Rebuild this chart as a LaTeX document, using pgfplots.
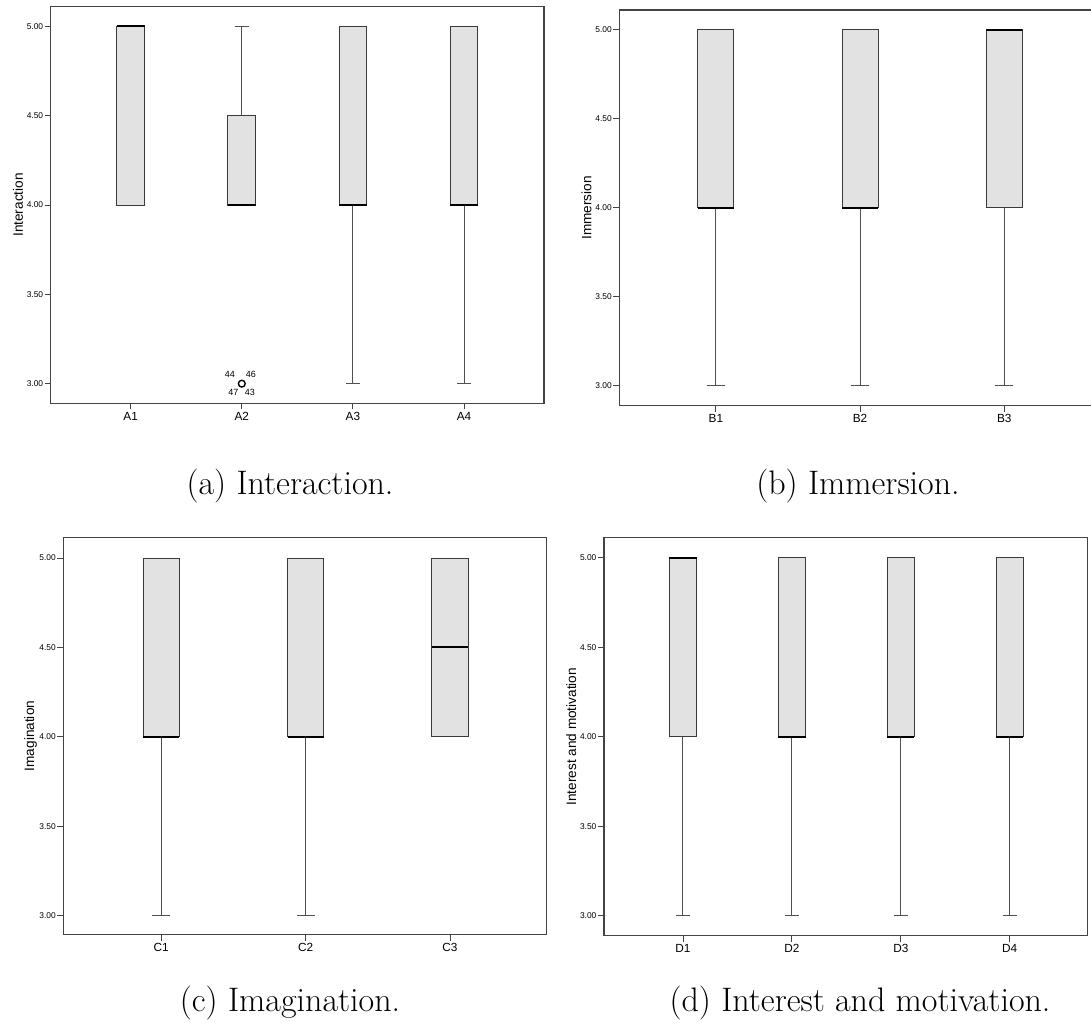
\documentclass[border=0pt]{standalone}
\usepackage{fontspec}
\usepackage{pgfplots}
\pgfplotsset{compat=1.18}
\usepgfplotslibrary{statistics}
\newfontfamily\sans{Liberation Sans}
\definecolor{boxfill}{HTML}{E2E2E2}
\definecolor{boxline}{HTML}{3A3A3A}
\definecolor{whisk}{HTML}{505050}
\definecolor{axgray}{HTML}{444444}
\pgfplotsset{
  spss/.style={
    scale only axis,
    clip=false,
    axis line style={draw=axgray, line width=0.55pt},
    tick style={draw=axgray, line width=0.45pt},
    tick align=outside,
    major tick length=3pt,
    xtick pos=bottom, ytick pos=left,
    ytick={3,3.5,4,4.5,5},
    xtick={0,1,2,3},
    /pgf/number format/assume math mode=true,
    yticklabel style={font=\sans\fontsize{4.2}{5}\selectfont, /pgf/number format/fixed, /pgf/number format/fixed zerofill, /pgf/number format/precision=2, inner sep=0.6pt},
    xticklabel style={font=\sans\fontsize{5.9}{6}\selectfont, inner sep=1.2pt},
    boxplot/draw direction=y,
    boxplot/box extend=0.25,
    boxplot/whisker extend=0.125,
    boxplot/every median/.style={draw=black, line width=1pt},
    boxplot/every box/.style={draw=boxline, fill=boxfill, line width=0.5pt},
    boxplot/every whisker/.style={draw=whisk, line width=0.5pt},
    every axis y label/.style={at={([xshift=-16.4pt]axis description cs:0,0.5)}, rotate=90, anchor=center, font=\sans\fontsize{6.8}{7}\selectfont},
  },
  bx/.style={mark=none, draw=boxline, line width=0.5pt},
}
\newcommand{\capfont}{\fontsize{17}{20}\selectfont}
\begin{document}
\begin{tikzpicture}
% (a)
\begin{axis}[spss, at={(25.35pt,-201.65pt)}, anchor=south west,
  width=246.65pt, height=198.3pt,
  xmin=-0.72, xmax=3.72, ymin=2.89, ymax=5.11,
  xticklabels={A1,A2,A3,A4}, ylabel={Interaction}]
\addplot[bx, boxplot prepared={lower whisker=4, lower quartile=4, median=5, upper quartile=5, upper whisker=5, draw position=0}] coordinates {};
\addplot[bx, mark=*, mark size=1.7pt, mark options={draw=black, fill=white, line width=0.7pt}, boxplot prepared={lower whisker=4, lower quartile=4, median=4, upper quartile=4.5, upper whisker=5, draw position=1}] table[row sep=\\, y index=0] {3\\};
\addplot[bx, boxplot prepared={lower whisker=3, lower quartile=4, median=4, upper quartile=5, upper whisker=5, draw position=2}] coordinates {};
\addplot[bx, boxplot prepared={lower whisker=3, lower quartile=4, median=4, upper quartile=5, upper whisker=5, draw position=3}] coordinates {};
\node[font=\sans\fontsize{4.5}{5}\selectfont, inner sep=0pt] at (axis cs:1,3) [xshift=-6pt, yshift=4.4pt] {44};
\node[font=\sans\fontsize{4.5}{5}\selectfont, inner sep=0pt] at (axis cs:1,3) [xshift=4.5pt, yshift=4.5pt] {46};
\node[font=\sans\fontsize{4.5}{5}\selectfont, inner sep=0pt] at (axis cs:1,3) [xshift=-4.2pt, yshift=-4.5pt] {47};
\node[font=\sans\fontsize{4.5}{5}\selectfont, inner sep=0pt] at (axis cs:1,3) [xshift=4pt, yshift=-4.5pt] {43};
\end{axis}
% (b)
\begin{axis}[spss, at={(309.65pt,-202.85pt)}, anchor=south west,
  width=240.75pt, height=197.85pt,
  xmin=-0.67, xmax=2.67, ymin=2.888, ymax=5.11,
  xtick={0,1,2}, xticklabels={B1,B2,B3}, ylabel={Immersion}]
\addplot[bx, boxplot prepared={lower whisker=3, lower quartile=4, median=4, upper quartile=5, upper whisker=5, draw position=0}] coordinates {};
\addplot[bx, boxplot prepared={lower whisker=3, lower quartile=4, median=4, upper quartile=5, upper whisker=5, draw position=1}] coordinates {};
\addplot[bx, boxplot prepared={lower whisker=3, lower quartile=4, median=5, upper quartile=5, upper whisker=5, draw position=2}] coordinates {};
\end{axis}
% (c)
\begin{axis}[spss, at={(31.65pt,-467.35pt)}, anchor=south west,
  width=241.7pt, height=198.7pt,
  xmin=-0.678, xmax=2.67, ymin=2.894, ymax=5.116,
  xtick={0,1,2}, xticklabels={C1,C2,C3}, ylabel={Imagination}]
\addplot[bx, boxplot prepared={lower whisker=3, lower quartile=4, median=4, upper quartile=5, upper whisker=5, draw position=0}] coordinates {};
\addplot[bx, boxplot prepared={lower whisker=3, lower quartile=4, median=4, upper quartile=5, upper whisker=5, draw position=1}] coordinates {};
\addplot[bx, boxplot prepared={lower whisker=4, lower quartile=4, median=4.5, upper quartile=5, upper whisker=5, draw position=2}] coordinates {};
\end{axis}
% (d)
\begin{axis}[spss, at={(302pt,-467.85pt)}, anchor=south west,
  width=241.85pt, height=199pt,
  xmin=-0.725, xmax=3.716, ymin=2.888, ymax=5.112,
  xticklabels={D1,D2,D3,D4}, ylabel={Interest and motivation}]
\addplot[bx, boxplot prepared={lower whisker=3, lower quartile=4, median=5, upper quartile=5, upper whisker=5, draw position=0}] coordinates {};
\addplot[bx, boxplot prepared={lower whisker=3, lower quartile=4, median=4, upper quartile=5, upper whisker=5, draw position=1}] coordinates {};
\addplot[bx, boxplot prepared={lower whisker=3, lower quartile=4, median=4, upper quartile=5, upper whisker=5, draw position=2}] coordinates {};
\addplot[bx, boxplot prepared={lower whisker=3, lower quartile=4, median=4, upper quartile=5, upper whisker=5, draw position=3}] coordinates {};
\end{axis}
% captions
\node[font=\capfont] at (145pt,-243pt) {(a) Interaction.};
\node[font=\capfont] at (429pt,-243pt) {(b) Immersion.};
\node[font=\capfont] at (145pt,-501.5pt) {(c) Imagination.};
\node[font=\capfont] at (430pt,-501.5pt) {(d) Interest and motivation.};
\pgfresetboundingbox
\useasboundingbox (0,0) rectangle (545.5pt,-513.5pt);
\end{tikzpicture}
\end{document}
